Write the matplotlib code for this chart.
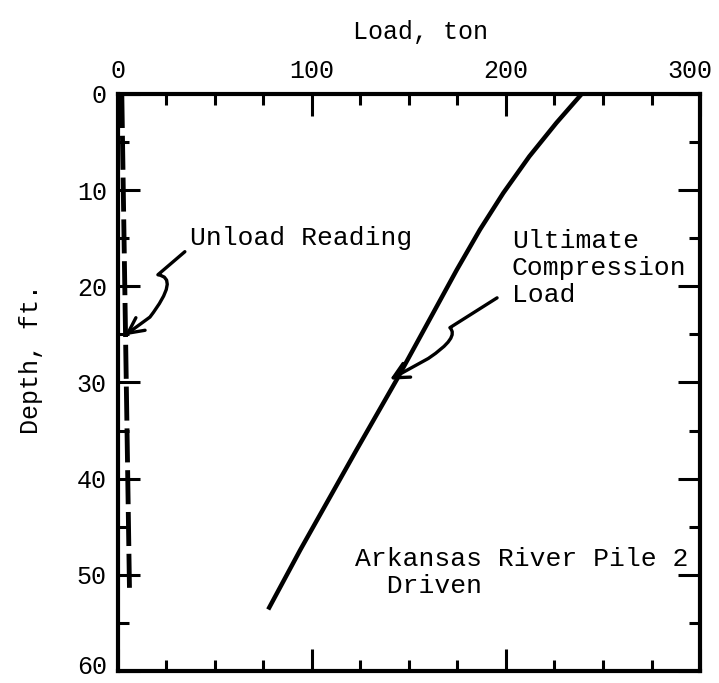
import numpy as np
import matplotlib
matplotlib.use("Agg")
import matplotlib.pyplot as plt
from matplotlib.path import Path
from matplotlib.patches import FancyArrowPatch
from matplotlib.transforms import ScaledTranslation

# ultimate compression load vs depth
comp_load = [239, 226, 212, 198.6, 186.6, 174.6, 164.3, 154, 143.7, 123, 94, 78]
comp_depth = [0, 3.0, 6.5, 10.3, 14.1, 18.3, 22.1, 25.9, 29.7, 37, 47.4, 53.4]

# unload reading (residual load)
unload_load = [2, 6]
unload_depth = [0, 52]

x_ticks = [0, 100, 200, 300]
y_ticks = [0, 10, 20, 30, 40, 50, 60]

mono = "Liberation Mono"

fig = plt.figure(figsize=(7.19, 6.83), dpi=100)
ax = fig.add_axes([0.164, 0.0176, 0.8096, 0.8448])

ax.plot(comp_load, comp_depth, color="black", lw=3.2, solid_joinstyle="round")
ax.plot(unload_load, unload_depth, color="black", lw=3.5,
        dashes=(7, 1.6), dash_capstyle="butt")

ax.set_xlim(0, 300)
ax.set_ylim(60, 0)
ax.set_xticks(x_ticks)
ax.set_yticks(y_ticks)
ax.set_xticks(np.arange(0, 301, 25), minor=True)
ax.set_yticks(np.arange(0, 61, 5), minor=True)
ax.xaxis.tick_top()
ax.tick_params(which="both", direction="in", top=True, bottom=True,
               left=True, right=True, labeltop=True, labelbottom=False,
               width=2.2, colors="black")
ax.tick_params(which="major", length=16, pad=8, labelsize=18)
ax.tick_params(which="minor", length=8)
for s in ax.spines.values():
    s.set_linewidth(3)

for lab in ax.get_xticklabels() + ax.get_yticklabels():
    lab.set_family(mono)

# keep the corner labels inside the picture
last_y = ax.yaxis.get_major_ticks()[-1].label1
last_y.set_transform(last_y.get_transform() + ScaledTranslation(0, 0.06, fig.dpi_scale_trans))
last_x = ax.xaxis.get_major_ticks()[-1].label2
last_x.set_transform(last_x.get_transform() + ScaledTranslation(-0.1, 0, fig.dpi_scale_trans))

ax.set_xlabel("Load, ton", fontsize=18, family=mono)
ax.xaxis.set_label_coords(0.52, 1.128)
ax.set_ylabel("Depth, ft.", fontsize=18, family=mono)
ax.yaxis.set_label_coords(-0.128, 0.54)

ax.text(37, 15.0, "Unload Reading", fontsize=19, family=mono, va="center")
ax.text(203, 18.1, "Ultimate\nCompression\nLoad", fontsize=19,
        family=mono, va="center", linespacing=1.15)
ax.text(122, 49.75, "Arkansas River Pile 2\n  Driven", fontsize=19,
        family=mono, va="center", linespacing=1.15)

# squiggle arrows
p1 = Path([(34.5, 16.4), (20.6, 18.8), (32, 19.1), (16.5, 23.2), (3.6, 25.1)],
          [Path.MOVETO, Path.LINETO, Path.CURVE3, Path.CURVE3, Path.LINETO])
p2 = Path([(195.4, 21.2), (171.1, 24.3), (176.3, 25.3), (160, 27.5), (140.2, 29.7)],
          [Path.MOVETO, Path.LINETO, Path.CURVE3, Path.CURVE3, Path.LINETO])
for p in (p1, p2):
    ax.add_patch(FancyArrowPatch(path=p, arrowstyle="->", mutation_scale=28,
                                 lw=2.4, color="black"))

fig.savefig("out.png", dpi=100)
